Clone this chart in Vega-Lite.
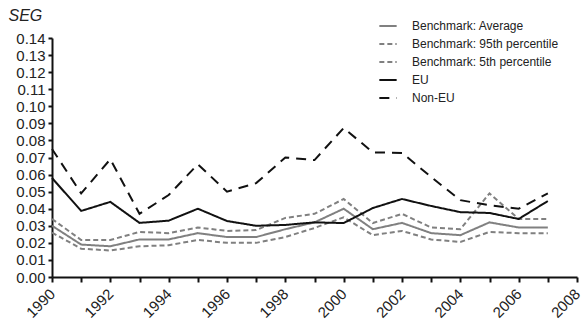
{
  "$schema": "https://vega.github.io/schema/vega-lite/v6.json",
  "width": 525,
  "height": 239,
  "autosize": {"type": "none"},
  "padding": {"left": 52, "top": 38, "right": 4, "bottom": 47},
  "background": "white",
  "config": {
    "view": {"stroke": null},
    "font": "Liberation Sans",
    "axis": {"grid": false, "domainColor": "#111", "domainWidth": 2, "tickColor": "#111", "tickWidth": 2, "labelColor": "#222", "labelFont": "Liberation Sans"}
  },
  "data": {"values": [
    {"year": 1990, "series": "Benchmark: Average", "value": 0.030},
    {"year": 1991, "series": "Benchmark: Average", "value": 0.019},
    {"year": 1992, "series": "Benchmark: Average", "value": 0.018},
    {"year": 1993, "series": "Benchmark: Average", "value": 0.022},
    {"year": 1994, "series": "Benchmark: Average", "value": 0.022},
    {"year": 1995, "series": "Benchmark: Average", "value": 0.0257},
    {"year": 1996, "series": "Benchmark: Average", "value": 0.0234},
    {"year": 1997, "series": "Benchmark: Average", "value": 0.0234},
    {"year": 1998, "series": "Benchmark: Average", "value": 0.028},
    {"year": 1999, "series": "Benchmark: Average", "value": 0.032},
    {"year": 2000, "series": "Benchmark: Average", "value": 0.040},
    {"year": 2001, "series": "Benchmark: Average", "value": 0.028},
    {"year": 2002, "series": "Benchmark: Average", "value": 0.0317},
    {"year": 2003, "series": "Benchmark: Average", "value": 0.0257},
    {"year": 2004, "series": "Benchmark: Average", "value": 0.0245},
    {"year": 2005, "series": "Benchmark: Average", "value": 0.032},
    {"year": 2006, "series": "Benchmark: Average", "value": 0.029},
    {"year": 2007, "series": "Benchmark: Average", "value": 0.029},
    {"year": 1990, "series": "Benchmark: 95th percentile", "value": 0.034},
    {"year": 1991, "series": "Benchmark: 95th percentile", "value": 0.0217},
    {"year": 1992, "series": "Benchmark: 95th percentile", "value": 0.0217},
    {"year": 1993, "series": "Benchmark: 95th percentile", "value": 0.0264},
    {"year": 1994, "series": "Benchmark: 95th percentile", "value": 0.0257},
    {"year": 1995, "series": "Benchmark: 95th percentile", "value": 0.029},
    {"year": 1996, "series": "Benchmark: 95th percentile", "value": 0.027},
    {"year": 1997, "series": "Benchmark: 95th percentile", "value": 0.0275},
    {"year": 1998, "series": "Benchmark: 95th percentile", "value": 0.0346},
    {"year": 1999, "series": "Benchmark: 95th percentile", "value": 0.037},
    {"year": 2000, "series": "Benchmark: 95th percentile", "value": 0.0457},
    {"year": 2001, "series": "Benchmark: 95th percentile", "value": 0.0316},
    {"year": 2002, "series": "Benchmark: 95th percentile", "value": 0.037},
    {"year": 2003, "series": "Benchmark: 95th percentile", "value": 0.029},
    {"year": 2004, "series": "Benchmark: 95th percentile", "value": 0.028},
    {"year": 2005, "series": "Benchmark: 95th percentile", "value": 0.049},
    {"year": 2006, "series": "Benchmark: 95th percentile", "value": 0.034},
    {"year": 2007, "series": "Benchmark: 95th percentile", "value": 0.034},
    {"year": 1990, "series": "Benchmark: 5th percentile", "value": 0.026},
    {"year": 1991, "series": "Benchmark: 5th percentile", "value": 0.0166},
    {"year": 1992, "series": "Benchmark: 5th percentile", "value": 0.0155},
    {"year": 1993, "series": "Benchmark: 5th percentile", "value": 0.018},
    {"year": 1994, "series": "Benchmark: 5th percentile", "value": 0.0186},
    {"year": 1995, "series": "Benchmark: 5th percentile", "value": 0.0217},
    {"year": 1996, "series": "Benchmark: 5th percentile", "value": 0.020},
    {"year": 1997, "series": "Benchmark: 5th percentile", "value": 0.020},
    {"year": 1998, "series": "Benchmark: 5th percentile", "value": 0.0234},
    {"year": 1999, "series": "Benchmark: 5th percentile", "value": 0.0287},
    {"year": 2000, "series": "Benchmark: 5th percentile", "value": 0.035},
    {"year": 2001, "series": "Benchmark: 5th percentile", "value": 0.0245},
    {"year": 2002, "series": "Benchmark: 5th percentile", "value": 0.027},
    {"year": 2003, "series": "Benchmark: 5th percentile", "value": 0.022},
    {"year": 2004, "series": "Benchmark: 5th percentile", "value": 0.0205},
    {"year": 2005, "series": "Benchmark: 5th percentile", "value": 0.0264},
    {"year": 2006, "series": "Benchmark: 5th percentile", "value": 0.0257},
    {"year": 2007, "series": "Benchmark: 5th percentile", "value": 0.0257},
    {"year": 1990, "series": "EU", "value": 0.058},
    {"year": 1991, "series": "EU", "value": 0.0387},
    {"year": 1992, "series": "EU", "value": 0.044},
    {"year": 1993, "series": "EU", "value": 0.0317},
    {"year": 1994, "series": "EU", "value": 0.033},
    {"year": 1995, "series": "EU", "value": 0.040},
    {"year": 1996, "series": "EU", "value": 0.0328},
    {"year": 1997, "series": "EU", "value": 0.030},
    {"year": 1998, "series": "EU", "value": 0.0305},
    {"year": 1999, "series": "EU", "value": 0.032},
    {"year": 2000, "series": "EU", "value": 0.0316},
    {"year": 2001, "series": "EU", "value": 0.0404},
    {"year": 2002, "series": "EU", "value": 0.0457},
    {"year": 2003, "series": "EU", "value": 0.0416},
    {"year": 2004, "series": "EU", "value": 0.038},
    {"year": 2005, "series": "EU", "value": 0.0375},
    {"year": 2006, "series": "EU", "value": 0.034},
    {"year": 2007, "series": "EU", "value": 0.0445},
    {"year": 1990, "series": "Non-EU", "value": 0.075},
    {"year": 1991, "series": "Non-EU", "value": 0.049},
    {"year": 1992, "series": "Non-EU", "value": 0.069},
    {"year": 1993, "series": "Non-EU", "value": 0.037},
    {"year": 1994, "series": "Non-EU", "value": 0.048},
    {"year": 1995, "series": "Non-EU", "value": 0.066},
    {"year": 1996, "series": "Non-EU", "value": 0.050},
    {"year": 1997, "series": "Non-EU", "value": 0.055},
    {"year": 1998, "series": "Non-EU", "value": 0.070},
    {"year": 1999, "series": "Non-EU", "value": 0.0685},
    {"year": 2000, "series": "Non-EU", "value": 0.0873},
    {"year": 2001, "series": "Non-EU", "value": 0.073},
    {"year": 2002, "series": "Non-EU", "value": 0.0727},
    {"year": 2003, "series": "Non-EU", "value": 0.0586},
    {"year": 2004, "series": "Non-EU", "value": 0.045},
    {"year": 2005, "series": "Non-EU", "value": 0.042},
    {"year": 2006, "series": "Non-EU", "value": 0.040},
    {"year": 2007, "series": "Non-EU", "value": 0.049}
  ]},
  "mark": {"type": "line", "strokeWidth": 2, "clip": false},
  "encoding": {
    "x": {
      "field": "year", "type": "quantitative",
      "scale": {"domain": [1990, 2008], "nice": false, "zero": false},
      "axis": {
        "title": null,
        "values": [1990,1991,1992,1993,1994,1995,1996,1997,1998,1999,2000,2001,2002,2003,2004,2005,2006,2007,2008],
        "labelExpr": "datum.value % 2 == 0 ? datum.value : ''",
        "labelAngle": -45, "labelAlign": "right", "labelBaseline": "middle",
        "labelFontSize": 15, "tickSize": 5, "labelPadding": 9, "labelFlush": false, "labelOverlap": false
      }
    },
    "y": {
      "field": "value", "type": "quantitative",
      "scale": {"domain": [0, 0.14], "nice": false},
      "axis": {
        "title": "SEG", "titleAngle": 0, "titleFontStyle": "italic", "titleFontWeight": "normal", "titleFontSize": 16,
        "titleAlign": "left", "titleBaseline": "alphabetic", "titleX": -44, "titleY": -18, "titleColor": "#222",
        "values": [0,0.01,0.02,0.03,0.04,0.05,0.06,0.07,0.08,0.09,0.10,0.11,0.12,0.13,0.14],
        "format": ".2f", "labelFontSize": 15, "tickSize": 4, "labelPadding": 3, "labelFlush": false, "labelOverlap": false
      }
    },
    "color": {
      "field": "series", "type": "nominal",
      "scale": {
        "domain": ["Benchmark: Average", "Benchmark: 95th percentile", "Benchmark: 5th percentile", "EU", "Non-EU"],
        "range": ["#808080", "#808080", "#808080", "#111111", "#111111"]
      },
      "legend": {
        "title": null, "orient": "none", "legendX": 326, "legendY": -22,
        "symbolType": "stroke", "symbolSize": 300, "symbolStrokeWidth": 2,
        "labelFontSize": 12, "labelColor": "#222", "rowPadding": 2, "labelOffset": 14, "padding": 0
      }
    },
    "strokeDash": {
      "field": "series", "type": "nominal",
      "scale": {
        "domain": ["Benchmark: Average", "Benchmark: 95th percentile", "Benchmark: 5th percentile", "EU", "Non-EU"],
        "range": [[1, 0], [5, 3], [5, 3], [1, 0], [10, 7]]
      },
      "legend": null
    }
  }
}
